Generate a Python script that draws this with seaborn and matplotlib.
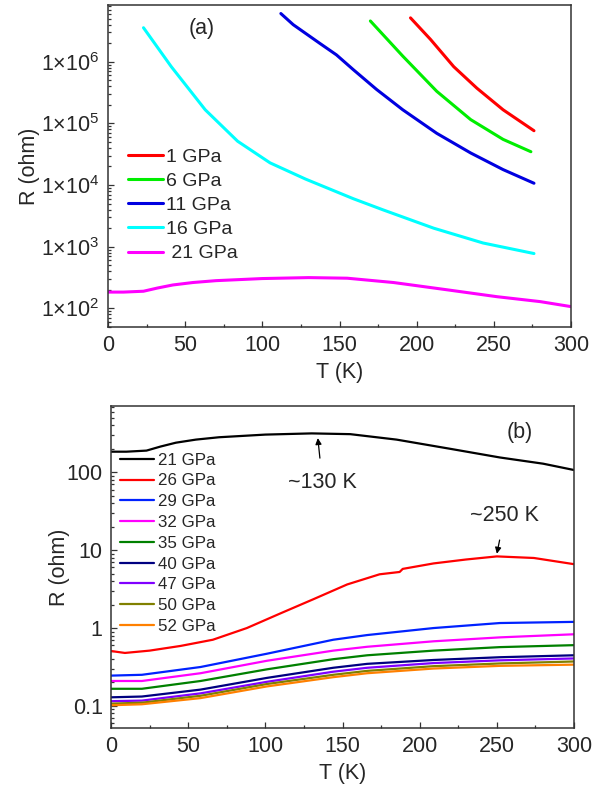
import numpy as np
import pandas as pd
import matplotlib
matplotlib.use('Agg')
import matplotlib.pyplot as plt
import seaborn as sns
from matplotlib.ticker import LogLocator, FuncFormatter, MultipleLocator, NullFormatter

# ---- data (T in K, R in ohm) ----
# panel (a)
T_1 = [196, 209, 224, 239, 256, 276]
R_1 = [5.13e6, 2.29e6, 8.3e5, 3.72e5, 1.66e5, 7.6e4]

T_6 = [170, 191, 213, 235, 256, 274]
R_6 = [4.57e6, 1.23e6, 3.31e5, 1.15e5, 5.5e4, 3.47e4]

T_11 = [112, 120, 137, 148, 159, 174, 191, 213, 235, 256, 276]
R_11 = [6.03e6, 3.98e6, 2.0e6, 1.29e6, 7.4e5, 3.55e5, 1.66e5, 6.9e4, 3.31e4, 1.78e4, 1.07e4]

T_16 = [23, 41, 63, 84, 105, 128, 159, 178, 211, 243, 276]
R_16 = [3.55e6, 8.3e5, 1.66e5, 5.13e4, 2.29e4, 1.25e4, 6.0e3, 3.98e3, 2.0e3, 1.15e3, 776]

# 21 GPa (shown in both panels)
T_21 = [0, 10, 23, 32, 42, 55, 70, 100, 130, 155, 185, 220, 252, 280, 300]
R_21 = [184, 184, 190, 214, 240, 263, 282, 305, 316, 309, 263, 200, 155, 129, 107]

# panel (b)
T_26 = [0, 9, 25, 45, 66, 88, 110, 131, 153, 174, 187, 189, 209, 230, 250, 274, 300]
R_26 = [0.507, 0.479, 0.513, 0.589, 0.708, 1.0, 1.55, 2.34, 3.63, 4.90, 5.25, 5.75,
        6.76, 7.59, 8.32, 7.94, 6.61]

T_low = [0, 20, 58, 101, 144, 166, 209, 252, 300]
R_29 = [0.245, 0.251, 0.316, 0.468, 0.708, 0.813, 1.00, 1.16, 1.20]
R_32 = [0.209, 0.209, 0.263, 0.380, 0.513, 0.575, 0.676, 0.759, 0.832]
R_35 = [0.166, 0.166, 0.209, 0.295, 0.398, 0.447, 0.513, 0.569, 0.603]
R_40 = [0.129, 0.132, 0.162, 0.229, 0.309, 0.347, 0.389, 0.422, 0.447]
R_47 = [0.115, 0.117, 0.145, 0.204, 0.275, 0.309, 0.355, 0.385, 0.407]
R_50 = [0.107, 0.110, 0.135, 0.191, 0.251, 0.282, 0.324, 0.351, 0.372]
R_52 = [0.102, 0.105, 0.126, 0.178, 0.234, 0.263, 0.302, 0.327, 0.339]

top_curves = [
    ('1 GPa', T_1, R_1, '#ff0000'),
    ('6 GPa', T_6, R_6, '#00ee00'),
    ('11 GPa', T_11, R_11, '#0000e0'),
    ('16 GPa', T_16, R_16, '#00ffff'),
    (' 21 GPa', T_21, R_21, '#ff00ff'),
]
bottom_curves = [
    ('21 GPa', T_21, R_21, '#000000'),
    ('26 GPa', T_26, R_26, '#ff0000'),
    ('29 GPa', T_low, R_29, '#0022ff'),
    ('32 GPa', T_low, R_32, '#ff00ff'),
    ('35 GPa', T_low, R_35, '#008000'),
    ('40 GPa', T_low, R_40, '#000080'),
    ('47 GPa', T_low, R_47, '#8000ff'),
    ('50 GPa', T_low, R_50, '#808000'),
    ('52 GPa', T_low, R_52, '#ff8000'),
]

sns.set_theme(style='ticks')
plt.rcParams['font.family'] = ['Liberation Sans', 'DejaVu Sans']
plt.rcParams['mathtext.fontset'] = 'custom'
plt.rcParams['mathtext.rm'] = 'Liberation Sans'
plt.rcParams['mathtext.it'] = 'Liberation Sans:italic'
plt.rcParams['mathtext.bf'] = 'Liberation Sans:bold'

fig = plt.figure(figsize=(6.04, 7.91), dpi=100)
ax1 = fig.add_axes([0.1788, 0.5866, 0.7666, 0.4071])
ax2 = fig.add_axes([0.1838, 0.0796, 0.7666, 0.4071])

FS = 15.5
spine_c = '#333333'


def style_axes(ax):
    for s in ax.spines.values():
        s.set_color(spine_c)
        s.set_linewidth(1.1)
    ax.tick_params(which='both', direction='in', color=spine_c, width=0.9,
                   labelsize=FS, top=False, right=False)
    ax.tick_params(which='major', length=4.5, pad=6)
    ax.tick_params(which='minor', length=2.5)
    ax.xaxis.set_major_locator(MultipleLocator(50))
    ax.xaxis.set_minor_locator(MultipleLocator(25))
    ax.set_xlim(0, 300)
    ax.set_xlabel('T (K)', fontsize=FS, labelpad=4)
    ax.set_ylabel('R (ohm)', fontsize=FS)


# ---- panel (a) ----
for lab, t, r, c in top_curves:
    sns.lineplot(x=t, y=r, ax=ax1, color=c, lw=2.2, label=lab, sort=False, estimator=None)
ax1.set_yscale('log')
ax1.set_ylim(50, 8.3e6)
ax1.yaxis.set_major_locator(LogLocator(base=10, numticks=20))
ax1.yaxis.set_minor_locator(LogLocator(base=10, subs=np.arange(2, 10), numticks=20))
ax1.yaxis.set_minor_formatter(NullFormatter())
ax1.yaxis.set_major_formatter(FuncFormatter(
    lambda v, p: '1\u00d710$^{%d}$' % round(np.log10(v))))
style_axes(ax1)
ax1.yaxis.set_label_coords(-0.146, 0.5)
ax1.text(61, 3.5e6, '(a)', fontsize=FS, ha='center', va='center')
ax1.legend(loc='upper left', bbox_to_anchor=(0.043, 0.555), frameon=False,
           fontsize=14, handlelength=1.8, handletextpad=0.15, labelspacing=0.335,
           borderpad=0, borderaxespad=0)

# ---- panel (b) ----
for lab, t, r, c in bottom_curves:
    sns.lineplot(x=t, y=r, ax=ax2, color=c, lw=1.6, label=lab, sort=False, estimator=None)
ax2.set_yscale('log')
ax2.set_ylim(0.052, 710)
ax2.yaxis.set_major_locator(LogLocator(base=10, numticks=20))
ax2.yaxis.set_minor_locator(LogLocator(base=10, subs=np.arange(2, 10), numticks=20))
ax2.yaxis.set_minor_formatter(NullFormatter())
ax2.yaxis.set_major_formatter(FuncFormatter(lambda v, p: '%g' % v))
style_axes(ax2)
ax2.yaxis.set_label_coords(-0.088, 0.5)
ax2.text(265, 320, '(b)', fontsize=FS, ha='center', va='center')
ax2.annotate('~130 K', xy=(134, 275), xytext=(137, 73), fontsize=FS,
             ha='center', va='center',
             arrowprops=dict(arrowstyle='-|>', color='black', lw=0.9, mutation_scale=9,
                             shrinkA=8, shrinkB=0))
ax2.annotate('~250 K', xy=(250, 9.0), xytext=(255, 28), fontsize=FS,
             ha='center', va='center',
             arrowprops=dict(arrowstyle='-|>', color='black', lw=0.9, mutation_scale=9,
                             shrinkA=8, shrinkB=0))
ax2.legend(loc='upper left', bbox_to_anchor=(0.02, 0.855), frameon=False,
           fontsize=12.2, handlelength=2.0, handletextpad=0.25, labelspacing=0.34,
           borderpad=0, borderaxespad=0)

fig.savefig('out.png', dpi=100)
